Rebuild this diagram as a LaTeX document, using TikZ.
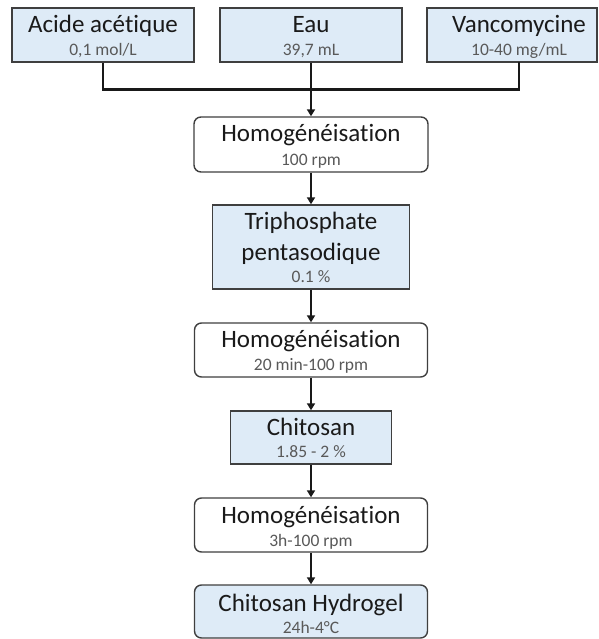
\documentclass[tikz,border=0pt]{standalone}
\usepackage{fontspec}
\setmainfont{Carlito}[Ligatures=NoCommon]
\usetikzlibrary{arrows.meta}
\definecolor{boxblue}{HTML}{DEEBF7}
\definecolor{boxline}{HTML}{3F3F3F}
\definecolor{subgray}{HTML}{595959}
\definecolor{maintext}{HTML}{1A1A1A}
\tikzset{
  bluebox/.style={draw=boxline, line width=1.4pt, fill=boxblue, inner sep=0pt},
  roundbox/.style={draw=boxline, line width=1.4pt, fill=white, rounded corners=7pt, inner sep=0pt},
  roundblue/.style={draw=boxline, line width=1.4pt, fill=boxblue, rounded corners=7pt, inner sep=0pt},
  maintxt/.style={anchor=base, inner sep=0pt, text=maintext, font=\fontsize{25}{30}\selectfont},
  subtxt/.style={anchor=base, inner sep=0pt, text=subgray, font=\fontsize{17.5}{21}\selectfont},
  conn/.style={draw=black!90, line width=2.2pt},
  arr/.style={conn, -{Triangle[width=8pt,length=7pt]}}
}
\begin{document}
\begin{tikzpicture}[x=1pt,y=-1pt]
\useasboundingbox (0,0) rectangle (598,639);
% boxes
\node[bluebox, minimum width=182pt, minimum height=54pt] (acide) at (103,35) {};
\node[bluebox, minimum width=182pt, minimum height=54pt] (eau) at (311,35) {};
\node[bluebox, minimum width=170pt, minimum height=54pt] (vanco) at (512,35) {};
\node[roundbox, minimum width=234pt, minimum height=55pt] (h1) at (311,144.5) {};
\node[bluebox, minimum width=197pt, minimum height=84pt] (triph) at (311,247) {};
\node[roundbox, minimum width=233pt, minimum height=54pt] (h2) at (311,350) {};
\node[bluebox, minimum width=161pt, minimum height=53pt] (chito) at (311,437.5) {};
\node[roundbox, minimum width=233pt, minimum height=54pt] (h3) at (311,525) {};
\node[roundblue, minimum width=233pt, minimum height=53pt] (hydro) at (311,611.5) {};
% texts
\node[maintxt] (t1) at (103,33) {Acide acétique};
\node[subtxt] (s1) at (103,56) {0,1 mol/L};
\node[maintxt] (t2) at (311,33) {Eau};
\node[subtxt] (s2) at (311,56) {39,7 mL};
\node[maintxt] (t3) at (519,33) {Vancomycine};
\node[subtxt] (s3) at (519,56) {10-40 mg/mL};
\node[maintxt] (t4) at (311,142) {Homogénéisation};
\node[subtxt] (s4) at (311,165) {100 rpm};
\node[maintxt] (t5a) at (311,229) {Triphosphate};
\node[maintxt] (t5b) at (311,260) {pentasodique};
\node[subtxt] (s5) at (311,282) {0.1 \%};
\node[maintxt] (t6) at (311,347) {Homogénéisation};
\node[subtxt] (s6) at (311,370) {20 min-100 rpm};
\node[maintxt] (t7) at (311,435) {Chitosan};
\node[subtxt] (s7) at (311,457) {1.85 - 2 \%};
\node[maintxt] (t8) at (311,523) {Homogénéisation};
\node[subtxt] (s8) at (311,546) {3h-100 rpm};
\node[maintxt] (t9) at (311,611) {Chitosan Hydrogel};
\node[subtxt] (s9) at (311,633) {24h-4°C};
% connectors
\coordinate (jn) at (311,89.5);
\coordinate (vb) at (519,62);
\draw[conn] (acide.south) |- (jn);
\draw[conn] (vb) |- (jn);
\draw[arr] (eau.south) -- (h1.north);
\draw[arr] (h1.south) -- (triph.north);
\draw[arr] (triph.south) -- (h2.north);
\draw[arr] (h2.south) -- (chito.north);
\draw[arr] (chito.south) -- (h3.north);
\draw[arr] (h3.south) -- (hydro.north);
\end{tikzpicture}
\end{document}
